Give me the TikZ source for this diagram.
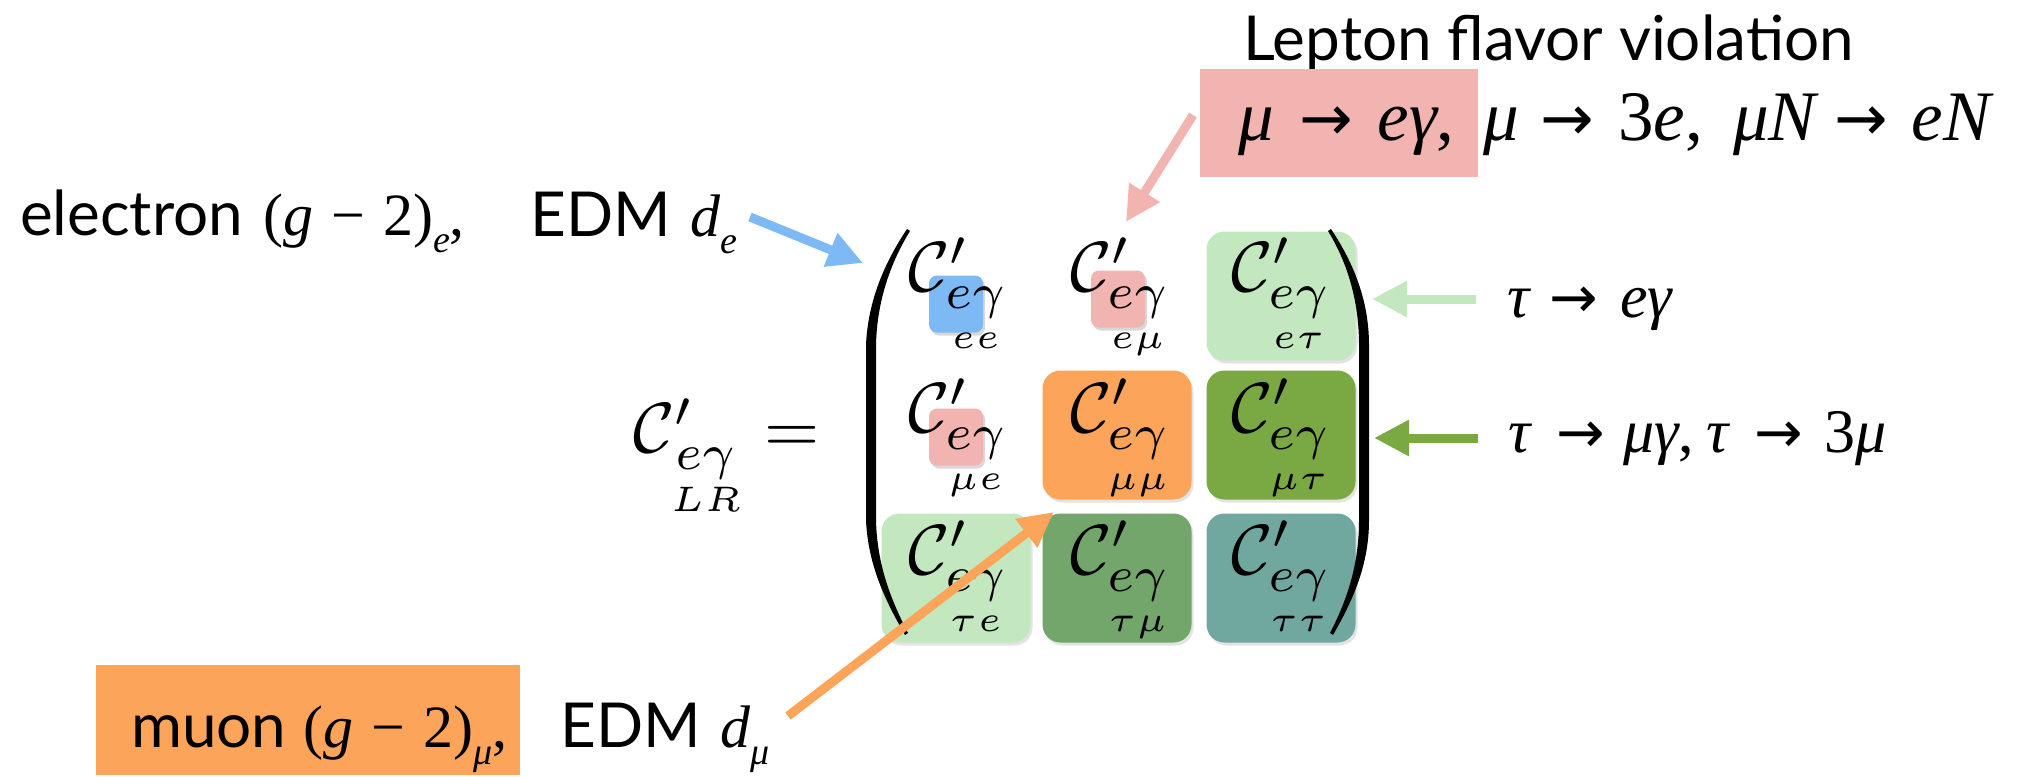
\documentclass[tikz,border=0pt]{standalone}
\usepackage{amsmath}
\usepackage{graphicx}
\usepackage{fontspec}
\setsansfont{Lato}
\newfontfamily\tnr{Liberation Serif}
\newfontfamily\arrf{DejaVu Sans}
\usetikzlibrary{arrows.meta,shadows}
\definecolor{cblue}{RGB}{125,185,245}
\definecolor{cpink}{RGB}{242,180,176}
\definecolor{clgreen}{RGB}{195,232,192}
\definecolor{corange}{RGB}{252,165,90}
\definecolor{cgreen}{RGB}{122,168,67}
\definecolor{cdgreen}{RGB}{114,166,106}
\definecolor{cteal}{RGB}{112,168,160}
\newcommand\sansF{\fontsize{62}{70}\selectfont\sffamily}
\newcommand\serL{\fontsize{60}{68}\selectfont\tnr}
\newcommand\serT{\fontsize{71}{80}\selectfont\tnr}
\newcommand\serR{\fontsize{62}{70}\selectfont\tnr}
\newcommand\arr[3]{\hspace{#2pt}\mbox{\fontsize{#1}{#1}\selectfont\arrf\upshape →}\hspace{#3pt}}
\newcommand\lowsub[1]{\raisebox{-17pt}{\fontsize{38}{40}\selectfont\tnr\itshape #1}}
\newcommand\mcell[1]{\scalebox{7.1}{$\mathcal{C}'_{\underset{#1}{e\gamma}}$}}
\tikzset{
  cellbox/.style={rounded corners=18pt, minimum width=149pt, minimum height=129pt, inner sep=0pt,
    drop shadow={opacity=0.22, shadow xshift=2pt, shadow yshift=-3pt}},
  smallbox/.style={rounded corners=8pt, minimum width=54pt, minimum height=57pt, inner sep=0pt,
    drop shadow={opacity=0.3, shadow xshift=2pt, shadow yshift=-3pt}},
  celltext/.style={anchor=base west, inner sep=0pt},
  lbl/.style={anchor=base west, inner sep=0pt},
  bigarrow/.style={line width=9pt, -{Triangle[length=35pt,width=34pt]}},
}
\begin{document}
\begin{tikzpicture}[x=1pt,y=-1pt]
\useasboundingbox[fill=white] (0,0) rectangle (2017,776);
% matrix boxes
\node[cellbox, fill=clgreen] (b13) at (1281,296) {};
\node[cellbox, fill=corange] (b22) at (1117,435) {};
\node[cellbox, fill=cgreen] (b23) at (1281,435) {};
\node[cellbox, fill=clgreen] (b31) at (956,578) {};
\node[cellbox, fill=cdgreen] (b32) at (1117,578) {};
\node[cellbox, fill=cteal] (b33) at (1281,578) {};
\node[smallbox, fill=cblue] (s11) at (956,304) {};
\node[smallbox, fill=cpink] (s12) at (1118,299) {};
\node[smallbox, fill=cpink] (s21) at (956,437) {};
% matrix entries
\node[celltext] (c11) at (908,291) {\mcell{ee}};
\node[celltext] (c12) at (1070,291) {\mcell{e\mu}};
\node[celltext] (c13) at (1231,291) {\mcell{e\tau}};
\node[celltext] (c21) at (908,432) {\mcell{\mu e}};
\node[celltext] (c22) at (1070,432) {\mcell{\mu\mu}};
\node[celltext] (c23) at (1231,432) {\mcell{\mu\tau}};
\node[celltext] (c31) at (908,574) {\mcell{\tau e}};
\node[celltext] (c32) at (1070,574) {\mcell{\tau\mu}};
\node[celltext] (c33) at (1231,574) {\mcell{\tau\tau}};
\node[celltext] (lhs) at (633,452) {\scalebox{7.1}{$\mathcal{C}'_{\underset{LR}{e\gamma}} =$}};
% parentheses
\fill (907,229) .. controls (885,262) and (868,300) .. (866,345) -- (866,520)
  .. controls (868,565) and (885,600) .. (905,635) -- (908,633)
  .. controls (891,600) and (877,565) .. (876,520) -- (876,345)
  .. controls (877,300) and (891,262) .. (910,231) -- cycle;
\fill (1331,229) .. controls (1353,262) and (1369,300) .. (1369,345) -- (1369,520)
  .. controls (1369,565) and (1353,600) .. (1333,635) -- (1330,633)
  .. controls (1347,600) and (1359,565) .. (1359,520) -- (1359,345)
  .. controls (1359,300) and (1347,262) .. (1328,231) -- cycle;
% top label
\node[lbl] (lfv) at (1243,60) {\sansF Lepton flavor violation};
\node[fill=cpink, anchor=north west, minimum width=278pt, minimum height=108pt, inner sep=0pt] (lfvbox) at (1200,69) {};
\node[lbl] (lfv1) at (1238,140) {\serT\itshape μ\arr{64}{26}{24}eγ\upshape,};
\node[lbl] (lfv2) at (1483,140) {\serT\itshape μ\arr{64}{22}{24}\upshape 3\itshape e\upshape,\hspace{30pt}\itshape μN\arr{64}{18}{24}eN};
% electron label
\node[lbl] (el) at (20,235) {\sansF electron};
\node[lbl] (elg) at (263,235) {\serL(\textit{g}\hspace{18pt}−\hspace{18pt}2)\lowsub{e}\serL,};
\node[lbl] (eledm) at (530,236) {\sansF EDM\hspace{20pt}\serL\itshape d\lowsub{e}};
% right labels
\node[lbl] (tau1) at (1507,317) {\serR\itshape τ\arr{58}{20}{22}eγ};
\node[lbl] (tau2) at (1508,452) {\serR\itshape τ\arr{58}{26}{18}μγ\upshape,\hspace{12pt}\itshape τ\arr{58}{26}{22}\upshape 3\itshape μ};
% muon label
\node[fill=corange, anchor=north west, minimum width=424pt, minimum height=110pt, inner sep=0pt] (mubox) at (96,665) {};
\node[lbl] (mu) at (131,747) {\sansF muon};
\node[lbl] (mug) at (303,747) {\serL(\textit{g}\hspace{18pt}−\hspace{18pt}2)\lowsub{μ}\serL,};
\node[lbl] (muedm) at (560,747) {\sansF EDM\hspace{20pt}\serL\itshape d\lowsub{μ}};
% arrow endpoints
\coordinate (pA) at (1193,115); \coordinate (pB) at (1126,222);
\coordinate (eA) at (750,217); \coordinate (eB) at (863,263);
\coordinate (mA) at (788,716); \coordinate (mB) at (1054,512);
\coordinate (gA) at (1476,299); \coordinate (gB) at (1372,299);
\coordinate (hA) at (1478,438); \coordinate (hB) at (1374,438);
\draw[bigarrow, cpink] (pA) -- (pB);
\draw[bigarrow, cblue] (eA) -- (eB);
\draw[bigarrow, corange] (mA) -- (mB);
\draw[bigarrow, clgreen] (gA) -- (gB);
\draw[bigarrow, cgreen] (hA) -- (hB);
\end{tikzpicture}
\end{document}
